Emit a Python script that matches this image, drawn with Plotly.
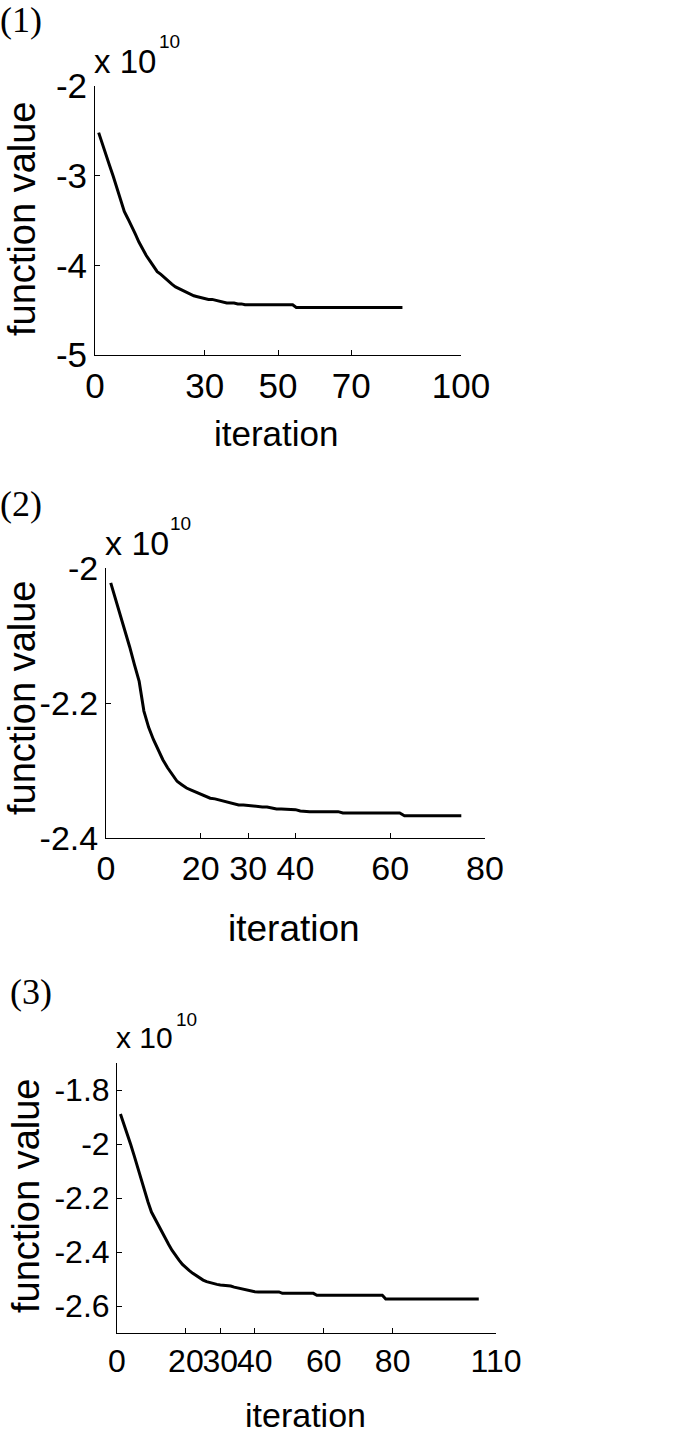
import plotly.graph_objects as go

W, H = 685, 1437

# ---------------- data (function value, units of 1e10) ----------------
iter1 = list(range(1, 85))
fval1 = [-2.52, -2.65, -2.77, -2.89, -3.01, -3.14, -3.27, -3.40, -3.48, -3.56,
         -3.65, -3.74, -3.82, -3.89, -3.95, -4.01, -4.07, -4.10, -4.14, -4.17,
         -4.21, -4.24, -4.26, -4.28, -4.30, -4.32, -4.34, -4.35, -4.36, -4.37,
         -4.38, -4.38, -4.39, -4.40, -4.41, -4.42, -4.42, -4.42, -4.43, -4.43,
         -4.44, -4.44, -4.44, -4.44, -4.44, -4.44, -4.44, -4.44, -4.44, -4.44,
         -4.44, -4.44, -4.44, -4.44, -4.47, -4.47, -4.47, -4.47, -4.47, -4.47,
         -4.47, -4.47, -4.47, -4.47, -4.47, -4.47, -4.47, -4.47, -4.47, -4.47,
         -4.47, -4.47, -4.47, -4.47, -4.47, -4.47, -4.47, -4.47, -4.47, -4.47,
         -4.47, -4.47, -4.47, -4.47]

iter2 = list(range(1, 76))
fval2 = [-2.022, -2.045, -2.069, -2.093, -2.117, -2.143, -2.168, -2.212, -2.236, -2.254,
         -2.270, -2.284, -2.296, -2.306, -2.316, -2.321, -2.326, -2.329, -2.332, -2.335,
         -2.338, -2.341, -2.342, -2.344, -2.346, -2.348, -2.350, -2.351, -2.351, -2.352,
         -2.353, -2.354, -2.354, -2.354, -2.356, -2.357, -2.357, -2.357, -2.357, -2.358,
         -2.360, -2.361, -2.361, -2.361, -2.361, -2.361, -2.361, -2.361, -2.361, -2.363,
         -2.363, -2.363, -2.363, -2.363, -2.363, -2.363, -2.363, -2.363, -2.363, -2.363,
         -2.363, -2.363, -2.367, -2.367, -2.367, -2.367, -2.367, -2.367, -2.367, -2.367,
         -2.367, -2.367, -2.367, -2.367, -2.367]

iter3 = list(range(1, 106))
fval3 = [-1.889, -1.925, -1.963, -2.003, -2.044, -2.088, -2.131, -2.173, -2.215, -2.252,
         -2.276, -2.303, -2.328, -2.350, -2.372, -2.394, -2.414, -2.430, -2.446, -2.459,
         -2.469, -2.479, -2.488, -2.496, -2.504, -2.510, -2.514, -2.517, -2.520, -2.522,
         -2.523, -2.524, -2.526, -2.530, -2.533, -2.536, -2.539, -2.542, -2.545, -2.547,
         -2.548, -2.548, -2.548, -2.548, -2.548, -2.548, -2.548, -2.553, -2.553, -2.553,
         -2.553, -2.553, -2.553, -2.553, -2.553, -2.553, -2.553, -2.560, -2.560, -2.560,
         -2.560, -2.560, -2.560, -2.560, -2.560, -2.560, -2.560, -2.560, -2.560, -2.560,
         -2.560, -2.560, -2.560, -2.560, -2.560, -2.560, -2.560, -2.574, -2.574, -2.574,
         -2.574, -2.574, -2.574, -2.574, -2.574, -2.574, -2.574, -2.574, -2.574, -2.574,
         -2.574, -2.574, -2.574, -2.574, -2.574, -2.574, -2.574, -2.574, -2.574, -2.574,
         -2.574, -2.574, -2.574, -2.574, -2.574]

xticks1 = [0, 30, 50, 70, 100]
xticks2 = [0, 20, 30, 40, 60, 80]
xticks3 = [0, 20, 30, 40, 60, 80, 110]
yticks1 = [-5, -4, -3, -2]
yticks2 = [-2.4, -2.2, -2]
yticks3 = [-2.6, -2.4, -2.2, -2, -1.8]
ylabels1 = ["-5", "-4", "-3", "-2"]
ylabels2 = ["-2.4", "-2.2", "-2"]
ylabels3 = ["-2.6", "-2.4", "-2.2", "-2", "-1.8"]
xrange1, yrange1 = [0, 100], [-5, -2]
xrange2, yrange2 = [0, 80], [-2.4, -2]
xrange3, yrange3 = [0, 110], [-2.7, -1.7]
panel_tags = ["(1)", "(2)", "(3)"]
scale_text = "x 10"
scale_exp = "10"
xtitle = "iteration"
ytitle = "function value"

# ---------------- layout helpers ----------------
def px(x):
    return x / W

def py(y):
    return 1 - y / H

SANS = "Liberation Sans, Arial, Helvetica, sans-serif"
SERIF = "Liberation Serif, Times New Roman, serif"

# plot boxes in pixels: (left, right, top, bottom)
boxes = [(95, 461, 86, 355), (106, 485, 568, 838), (117, 496, 1063, 1333)]
tick_sizes = [35, 34, 32]

fig = go.Figure()
series = [(iter1, fval1), (iter2, fval2), (iter3, fval3)]
xticks = [xticks1, xticks2, xticks3]
yticks = [yticks1, yticks2, yticks3]
ylabels = [ylabels1, ylabels2, ylabels3]
xranges = [xrange1, xrange2, xrange3]
yranges = [yrange1, yrange2, yrange3]

for i, (xs, ys) in enumerate(series):
    n = "" if i == 0 else str(i + 1)
    fig.add_trace(go.Scatter(x=xs, y=ys, mode="lines",
                             line=dict(color="black", width=3),
                             xaxis="x" + n, yaxis="y" + n, showlegend=False,
                             hoverinfo="skip"))
    l, r, t, b = boxes[i]
    common = dict(showline=True, linecolor="black", linewidth=1, ticks="inside",
                  ticklen=5, tickwidth=1, tickcolor="black", showgrid=False,
                  zeroline=False, mirror=False, automargin=False, tickangle=0,
                  tickfont=dict(family=SANS, size=tick_sizes[i], color="black"))
    fig.update_layout(**{
        "xaxis" + n: dict(domain=[px(l), px(r)], range=xranges[i],
                          anchor="y" + n, tickvals=xticks[i],
                          ticktext=[str(v) for v in xticks[i]], **common),
        "yaxis" + n: dict(domain=[py(b), py(t)], range=yranges[i],
                          anchor="x" + n, tickvals=yticks[i],
                          ticktext=ylabels[i], **common),
    })

annotations = []
# panel tags
tag_pos = [(-2, -2), (-2, 482), (8, 970)]
for i, (x, y) in enumerate(tag_pos):
    annotations.append(dict(text=panel_tags[i], x=px(x), y=py(y), xref="paper", yref="paper",
                            xanchor="left", yanchor="top", showarrow=False,
                            font=dict(family=SERIF, size=36, color="black")))
# scale factors: (x, bottom y) for "x 10", (x, bottom y) for exponent
scale_pos = [(92, 82, 157, 54), (103, 564, 168, 536), (114, 1056, 174, 1032)]
scale_sizes = [33, 34, 30]
for i, (x, y, xs, ys) in enumerate(scale_pos):
    annotations.append(dict(text=scale_text, x=px(x), y=py(y), xref="paper", yref="paper",
                            xanchor="left", yanchor="bottom", showarrow=False,
                            font=dict(family=SANS, size=scale_sizes[i], color="black")))
    annotations.append(dict(text=scale_exp, x=px(xs), y=py(ys), xref="paper", yref="paper",
                            xanchor="left", yanchor="bottom", showarrow=False,
                            font=dict(family=SANS, size=19, color="black")))
# x titles
xt_pos = [(276, 433), (294, 928), (305, 1415)]
xt_sizes = [35, 37, 34]
for i, (x, y) in enumerate(xt_pos):
    annotations.append(dict(text=xtitle, x=px(x), y=py(y), xref="paper", yref="paper",
                            xanchor="center", yanchor="middle", showarrow=False,
                            font=dict(family=SANS, size=xt_sizes[i], color="black")))
# y titles
yt_pos = [(22, 219), (22, 698), (26, 1196)]
for i, (x, y) in enumerate(yt_pos):
    annotations.append(dict(text=ytitle, x=px(x), y=py(y), xref="paper", yref="paper",
                            xanchor="center", yanchor="middle", showarrow=False, textangle=-90,
                            font=dict(family=SANS, size=38, color="black")))

fig.update_layout(width=W, height=H, margin=dict(l=0, r=0, t=0, b=0),
                  paper_bgcolor="white", plot_bgcolor="white",
                  annotations=annotations, showlegend=False)

fig.write_html("out.html", config={"displayModeBar": False},
               post_script="document.body.style.margin='0';document.body.style.overflow='hidden';")
